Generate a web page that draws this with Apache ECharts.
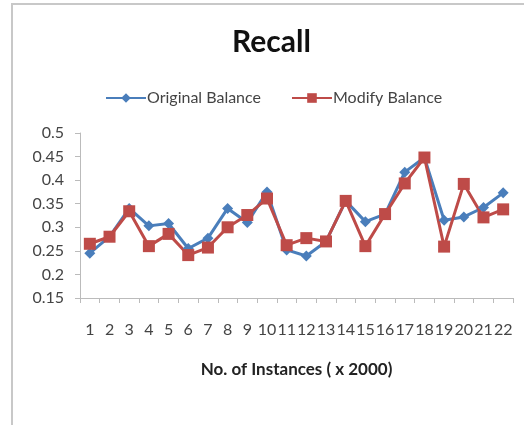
<!DOCTYPE html>
<html>
<head>
<meta charset="utf-8">
<title>Recall</title>
<script src="https://cdn.jsdelivr.net/npm/echarts@6/dist/echarts.min.js"></script>
<style>
  html, body { margin: 0; padding: 0; background: #fff; }
  #chart { width: 524px; height: 425px; }
</style>
</head>
<body>
<div id="chart"></div>
<script>
// data
var categories = ['1','2','3','4','5','6','7','8','9','10','11','12','13','14','15','16','17','18','19','20','21','22'];
var originalBalance = [0.245, 0.28, 0.34, 0.303, 0.308, 0.255, 0.277, 0.34, 0.31, 0.375, 0.252, 0.239, 0.27, 0.356, 0.312, 0.328, 0.417, 0.448, 0.315, 0.322, 0.342, 0.373];
var modifyBalance   = [0.265, 0.28, 0.334, 0.26, 0.286, 0.241, 0.257, 0.30, 0.326, 0.361, 0.262, 0.277, 0.27, 0.356, 0.26, 0.328, 0.393, 0.448, 0.259, 0.392, 0.321, 0.338];
var yTicks = [0.15, 0.2, 0.25, 0.3, 0.35, 0.4, 0.45, 0.5];

var fontFam = 'Lato, "Open Sans", sans-serif';
var myChart = echarts.init(document.getElementById('chart'));
var option = {
    backgroundColor: '#fff',
    textStyle: { fontFamily: fontFam },
    graphic: [{
        type: 'rect',
        shape: { x: 12, y: 4, width: 600, height: 500 },
        style: { fill: 'none', stroke: '#c8c8c8', lineWidth: 2 },
        silent: true
    }],
    title: {
        text: 'Recall',
        left: 227,
        top: 22,
        textStyle: { fontSize: 30, fontWeight: 'bold', color: '#111', fontFamily: fontFam }
    },
    legend: {
        top: 85,
        left: 100,
        itemWidth: 40,
        itemHeight: 12,
        itemGap: 30,
        textStyle: { fontSize: 16, color: '#444', fontFamily: fontFam, padding: [0, 0, 0, -4] },
        data: ['Original Balance', 'Modify Balance']
    },
    grid: { left: 80, right: 11, top: 133, bottom: 127 },
    xAxis: {
        type: 'category',
        data: categories,
        boundaryGap: true,
        name: 'No. of Instances ( x 2000)',
        nameLocation: 'middle',
        nameGap: 63,
        nameTextStyle: { fontSize: 17, fontWeight: 'bold', color: '#222', fontFamily: fontFam },
        axisLine: { lineStyle: { color: '#bbb', width: 1 } },
        axisTick: { show: true, alignWithLabel: false, length: 5, lineStyle: { color: '#bbb' } },
        axisLabel: { interval: 0, fontSize: 16, color: '#444', margin: 24, fontFamily: fontFam }
    },
    yAxis: {
        type: 'value',
        min: yTicks[0],
        max: yTicks[yTicks.length - 1],
        interval: 0.05,
        axisLine: { show: true, lineStyle: { color: '#bbb', width: 1 } },
        axisTick: { show: true, length: 5, lineStyle: { color: '#bbb' } },
        splitLine: { show: false },
        axisLabel: {
            fontSize: 16, color: '#444', margin: 16, fontFamily: fontFam,
            formatter: function (v) { return String(Math.round(v * 100) / 100); }
        }
    },
    series: [
        {
            name: 'Original Balance',
            type: 'line',
            data: originalBalance,
            symbol: 'diamond',
            symbolSize: 11,
            itemStyle: { color: '#4a7ebb' },
            lineStyle: { color: '#4a7ebb', width: 3 }
        },
        {
            name: 'Modify Balance',
            type: 'line',
            data: modifyBalance,
            symbol: 'rect',
            symbolSize: 12,
            itemStyle: { color: '#be4b48' },
            lineStyle: { color: '#be4b48', width: 3 }
        }
    ]
};
myChart.setOption(option);
</script>
</body>
</html>
